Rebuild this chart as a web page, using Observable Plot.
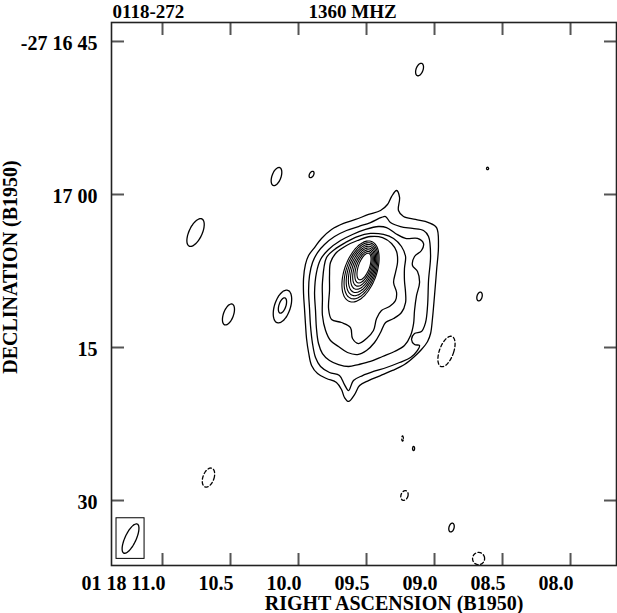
<!DOCTYPE html>
<html><head><meta charset="utf-8">
<script src="https://cdn.jsdelivr.net/npm/d3@7"></script>
<script src="https://cdn.jsdelivr.net/npm/@observablehq/plot@0.6"></script>
<style>
html,body{margin:0;padding:0;background:#fff;}
#chart svg{display:block;}
</style></head><body><div id="chart"></div>
<script>
// ---- labels & ticks ----
const sourceName = "0118-272";
const frequencyLabel = "1360 MHZ";
const xTitle = "RIGHT ASCENSION (B1950)";
const yTitle = "DECLINATION (B1950)";
const xTicks = [11.0, 10.5, 10.0, 9.5, 9.0, 8.5, 8.0];          // RA seconds past 01h18m
const xTickLabels = ["01 18 11.0", "10.5", "10.0", "09.5", "09.0", "08.5", "08.0"];
const yTicks = [45, 60, 75, 90];                                  // arcsec south of -27d16m
const yTickLabels = ["-27 16 45", "17 00", "15", "30"];
const raDomain = [11.375, 7.662];
const decDomain = [96.37, 43.14];
const declinationDeg = -27.28;

// ---- positive contours of the extended source: [RA s, Dec arcsec] ----
const contour1 = [[9.279,59.61],[9.257,60.29],[9.265,61.57],[9.228,62.16],[9.140,62.45],[9.044,62.75],[8.985,63.24],[8.971,65.00],[8.985,67.45],[9.000,69.90],[9.015,72.16],[9.029,73.63],[9.051,74.41],[9.096,75.20],[9.147,75.88],[9.221,76.67],[9.309,77.25],[9.397,77.75],[9.485,78.24],[9.551,78.73],[9.588,79.61],[9.632,80.29],[9.662,79.90],[9.684,79.12],[9.721,78.43],[9.794,78.04],[9.860,77.55],[9.904,76.76],[9.926,75.49],[9.941,74.12],[9.949,72.65],[9.956,71.18],[9.963,69.71],[9.963,68.24],[9.949,66.86],[9.926,65.98],[9.882,65.20],[9.831,64.31],[9.757,63.43],[9.669,62.84],[9.581,62.45],[9.485,61.96],[9.397,61.57],[9.346,60.98],[9.316,60.20]];
const contour2 = [[9.897,66.67],[9.860,65.69],[9.809,64.90],[9.735,64.12],[9.647,63.53],[9.559,63.14],[9.471,62.75],[9.390,62.25],[9.360,62.16],[9.324,62.75],[9.250,63.14],[9.162,63.33],[9.081,63.53],[9.044,64.12],[9.029,65.98],[9.044,68.43],[9.051,70.88],[9.066,72.55],[9.096,73.43],[9.147,73.63],[9.169,74.22],[9.147,74.71],[9.110,74.80],[9.125,75.29],[9.176,75.98],[9.257,76.47],[9.353,76.96],[9.449,77.35],[9.529,77.75],[9.596,78.24],[9.632,79.22],[9.662,78.63],[9.699,77.75],[9.772,77.45],[9.838,76.86],[9.875,75.98],[9.897,74.61],[9.912,72.84],[9.919,71.18],[9.926,69.41],[9.919,67.94]];
const contour3 = [[9.868,67.65],[9.838,66.37],[9.779,65.39],[9.691,64.51],[9.603,63.92],[9.507,63.43],[9.412,63.14],[9.353,63.24],[9.287,63.82],[9.213,64.31],[9.125,64.31],[9.081,64.80],[9.096,65.49],[9.147,66.08],[9.162,66.96],[9.125,67.55],[9.110,68.63],[9.132,69.90],[9.147,71.37],[9.154,72.65],[9.176,73.82],[9.221,74.80],[9.294,75.39],[9.382,75.88],[9.471,76.37],[9.559,76.67],[9.632,76.86],[9.706,76.67],[9.772,76.27],[9.824,75.59],[9.853,74.61],[9.868,73.14],[9.875,71.37],[9.882,69.61]];
const contour4 = [[9.794,66.18],[9.735,65.39],[9.654,64.71],[9.566,64.12],[9.471,63.82],[9.375,63.92],[9.301,64.31],[9.243,65.10],[9.213,66.08],[9.221,67.25],[9.221,68.43],[9.213,69.61],[9.213,70.59],[9.243,71.57],[9.301,72.16],[9.360,72.55],[9.397,73.53],[9.441,74.51],[9.500,75.29],[9.566,75.69],[9.640,75.49],[9.706,74.90],[9.765,74.31],[9.801,73.33],[9.824,71.86],[9.824,70.20],[9.824,68.63]];
const contour5 = [[9.765,66.67],[9.721,65.69],[9.647,65.00],[9.566,64.51],[9.471,64.12],[9.382,64.22],[9.316,64.80],[9.279,65.59],[9.272,66.67],[9.287,67.65],[9.301,68.63],[9.279,69.61],[9.287,70.39],[9.331,70.98],[9.390,71.37],[9.426,72.16],[9.449,73.33],[9.500,74.12],[9.559,74.61],[9.603,74.12],[9.618,73.04],[9.684,72.55],[9.757,72.25],[9.779,71.18],[9.772,69.41],[9.772,67.94]];

// ---- core rings (elliptical contours): centre, semi-axes in arcsec, tilt deg ----
const coreRA    = [9.5184, 9.5221, 9.5257, 9.5294, 9.5331, 9.5368, 9.5404, 9.5441];
const coreDec   = [67.059, 67.128, 67.199, 67.269, 67.339, 67.409, 67.479, 67.549];
const coreMajor = [1.373, 1.625, 1.876, 2.128, 2.381, 2.633, 2.885, 3.137];
const coreMinor = [0.539, 0.686, 0.833, 0.980, 1.127, 1.275, 1.422, 1.569];
const coreTilt = 20;

// ---- small isolated contours (sign -1 = negative, dashed) ----
const blobRA    = [9.110, 10.162, 9.904, 8.610, 10.757, 10.515, 10.118, 10.118, 8.669, 8.912, 9.235, 9.154, 9.221, 8.875, 8.676, 10.662];
const blobDec   = [47.75, 58.24, 58.04, 57.45, 63.73, 71.76, 70.98, 70.88, 70.00, 75.39, 83.92, 84.90, 89.51, 92.65, 95.69, 87.75];
const blobMajor = [0.64, 0.93, 0.34, 0.12, 1.47, 1.08, 1.67, 0.78, 0.44, 1.57, 0.25, 0.20, 0.49, 0.44, 0.60, 0.98];
const blobMinor = [0.34, 0.44, 0.20, 0.10, 0.64, 0.49, 0.78, 0.34, 0.25, 0.69, 0.08, 0.10, 0.34, 0.25, 0.59, 0.54];
const blobTilt  = [20, 20, 30, 0, 25, 20, 18, 18, 15, 20, 0, 0, 20, 15, 0, 20];
const blobSign  = [1, 1, 1, 1, 1, 1, 1, 1, 1, -1, -1, 1, -1, 1, -1, -1];

// ---- restoring beam ----
const beamRA = 11.235, beamDec = 93.73, beamMajor = 1.57, beamMinor = 0.54, beamTilt = 25;
const beamBoxPad = 0.55;

// ---- build geometry ----
const raPerArcsec = 1 / (15 * Math.cos(declinationDeg * Math.PI / 180));
function ellipse(id, ra, dec, a, b, tilt, n = 64) {
  const th = tilt * Math.PI / 180, pts = [];
  for (let k = 0; k < n; k++) {
    const t = 2 * Math.PI * k / n;
    const dx = b * Math.cos(t) * Math.cos(th) + a * Math.sin(t) * Math.sin(th);
    const dy = b * Math.cos(t) * Math.sin(th) - a * Math.sin(t) * Math.cos(th);
    pts.push({id, ra: ra - dx * raPerArcsec, dec: dec + dy});
  }
  return pts;
}
const solid = [], dashed = [], core = [];
[contour1, contour2, contour3, contour4, contour5].forEach((c, i) =>
  c.forEach(([ra, dec]) => solid.push({id: "c" + i, ra, dec})));
coreRA.forEach((ra, i) => core.push(...ellipse("core" + i, ra, coreDec[i], coreMajor[i], coreMinor[i], coreTilt)));
blobRA.forEach((ra, i) => {
  const pts = ellipse("b" + i, ra, blobDec[i], blobMajor[i], blobMinor[i], blobTilt[i]);
  (blobSign[i] > 0 ? solid : dashed).push(...pts);
});
const beamPts = ellipse("beam", beamRA, beamDec, beamMajor, beamMinor, beamTilt);
const bth = beamTilt * Math.PI / 180;
const beamHalfW = Math.hypot(beamMinor * Math.cos(bth), beamMajor * Math.sin(bth)) + beamBoxPad;
const beamHalfH = Math.hypot(beamMajor * Math.cos(bth), beamMinor * Math.sin(bth)) + beamBoxPad;

const font = "Liberation Serif, Times New Roman, serif";
const labelOf = (ticks, labels) => d => labels[ticks.indexOf(d)];
const tickStyle = {stroke: "#555", strokeWidth: 2, label: null, tickFormat: () => ""};
const txt = {fontSize: 20, fontWeight: "bold", text: d => d};

const chart = Plot.plot({
  width: 617, height: 613,
  marginLeft: 111, marginRight: 1, marginTop: 22, marginBottom: 48,
  style: {fontFamily: font, fontSize: "20px", fontWeight: "bold", background: "#fff", color: "#000"},
  x: {domain: raDomain},
  y: {domain: decDomain},
  marks: [
    Plot.line(solid, {x: "ra", y: "dec", z: "id", curve: "catmull-rom-closed", stroke: "#000", strokeWidth: 1.3, clip: true}),
    Plot.line(core, {x: "ra", y: "dec", z: "id", curve: "catmull-rom-closed", stroke: "#000", strokeWidth: 1.1}),
    Plot.line(dashed, {x: "ra", y: "dec", z: "id", curve: "catmull-rom-closed", stroke: "#000", strokeWidth: 1.3, strokeDasharray: "3.5,2.5", clip: true}),
    Plot.line(beamPts, {x: "ra", y: "dec", curve: "catmull-rom-closed", stroke: "#000", strokeWidth: 1.3}),
    Plot.rect([0], {x1: () => beamRA + beamHalfW * raPerArcsec, x2: () => beamRA - beamHalfW * raPerArcsec,
                    y1: () => beamDec - beamHalfH, y2: () => beamDec + beamHalfH, fill: "none", stroke: "#000", strokeWidth: 1}),
    Plot.axisX({ticks: xTicks, anchor: "bottom", tickSize: -12, ...tickStyle}),
    Plot.axisX({ticks: xTicks, anchor: "top", tickSize: -12, ...tickStyle}),
    Plot.axisY({ticks: yTicks, anchor: "left", tickSize: -13, ...tickStyle}),
    Plot.axisY({ticks: yTicks, anchor: "right", tickSize: -13, ...tickStyle}),
    Plot.axisX({ticks: xTicks, anchor: "bottom", tickSize: 0, tickPadding: 10, label: null,
                tickFormat: labelOf(xTicks, xTickLabels), textAnchor: "end", dx: 3, fontSize: 20, fontWeight: "bold"}),
    Plot.axisY({ticks: yTicks, anchor: "left", tickSize: 0, tickPadding: 14, label: null,
                tickFormat: labelOf(yTicks, yTickLabels), dy: 2, fontSize: 20, fontWeight: "bold"}),
    Plot.frame({stroke: "#222", strokeWidth: 1.6}),
    Plot.text([sourceName], {...txt, fontSize: 19, frameAnchor: "top-left", textAnchor: "start", lineAnchor: "middle", dx: 1, dy: -10.5}),
    Plot.text([frequencyLabel], {...txt, fontSize: 19, frameAnchor: "top-left", textAnchor: "start", lineAnchor: "middle", dx: 197, dy: -10.5}),
    Plot.text([xTitle], {...txt, frameAnchor: "bottom", textAnchor: "middle", lineAnchor: "middle", dx: 30, dy: 38}),
    Plot.text([yTitle], {...txt, frameAnchor: "left", textAnchor: "middle", lineAnchor: "middle", rotate: -90, dx: -101, dy: -27})
  ]
});
document.getElementById("chart").appendChild(chart);
</script>
</body></html>
